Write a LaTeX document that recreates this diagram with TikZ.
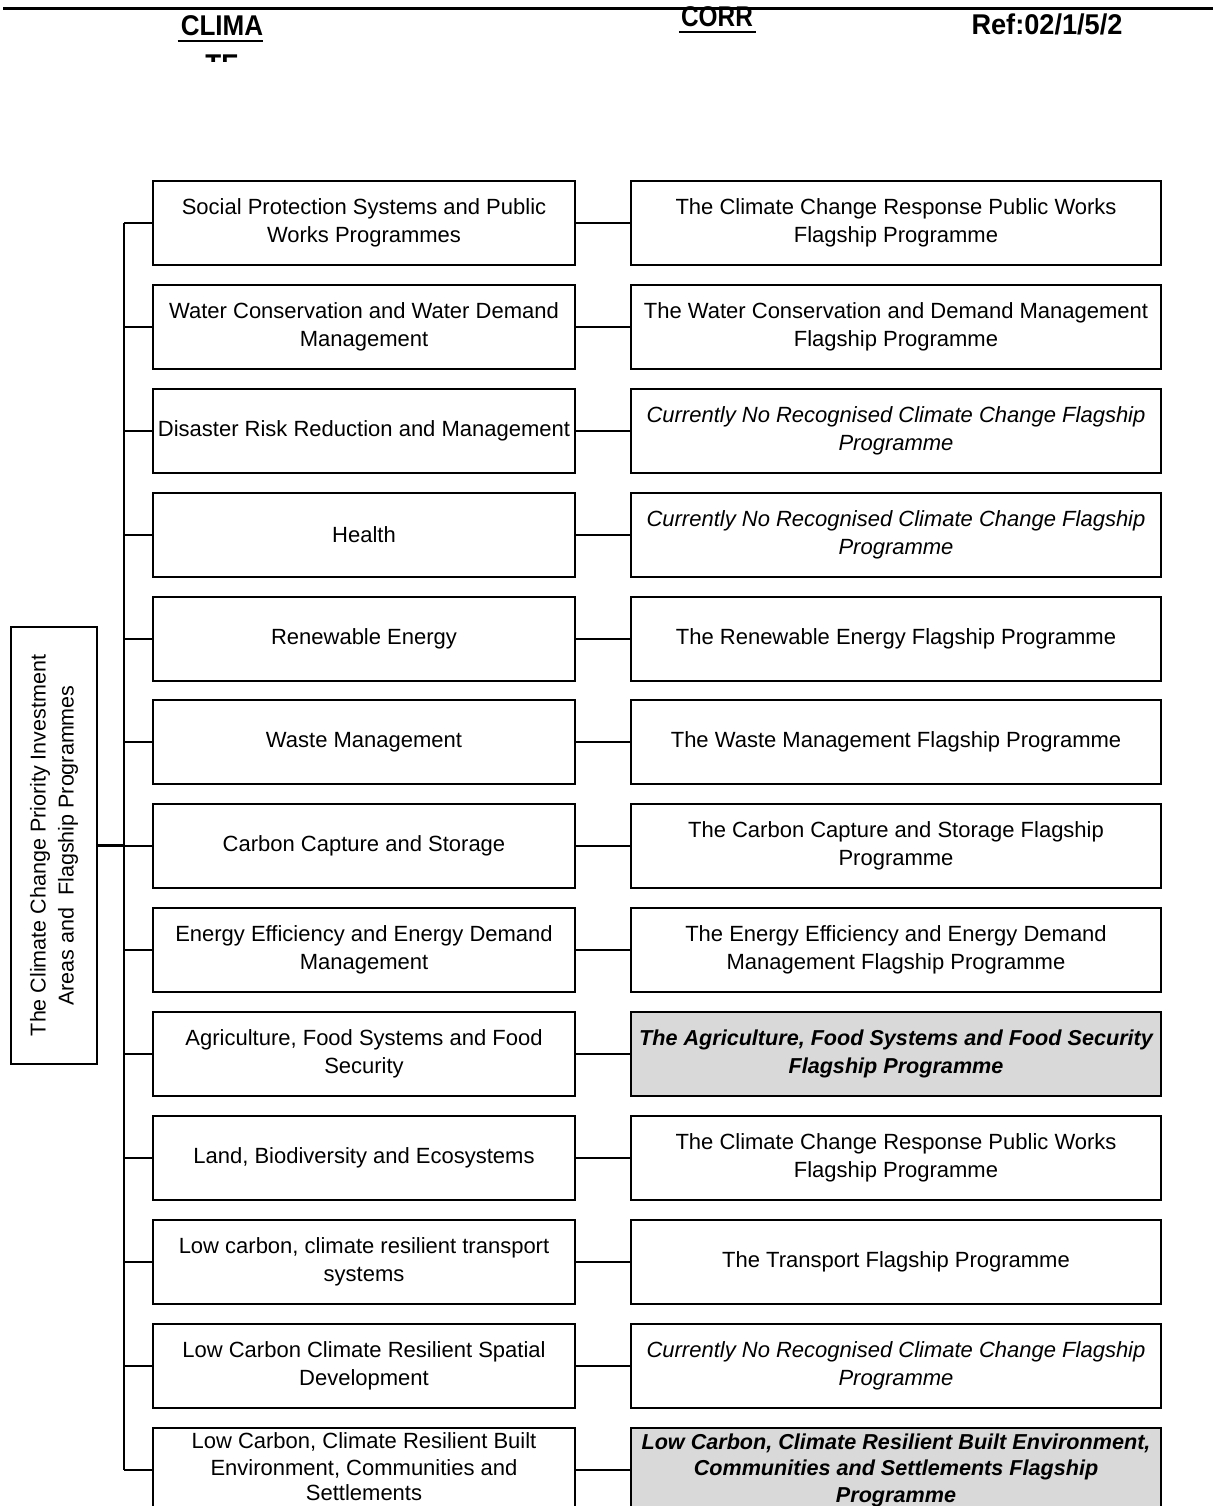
\documentclass[tikz,border=0pt]{standalone}
\usepackage{fontspec}
\setmainfont{Liberation Sans}
\definecolor{hlgray}{HTML}{D9D9D9}
\begin{document}
\begin{tikzpicture}[x=1pt,y=-1pt,
  box/.style={draw=black, line width=2pt, minimum height=84pt, inner sep=0pt, align=center, font=\fontsize{22}{28}\selectfont},
  lbox/.style={box, minimum width=422pt},
  rbox/.style={box, minimum width=530pt},
  hl/.style={fill=hlgray, font=\fontsize{21.6}{28}\selectfont\bfseries\itshape},
  it/.style={font=\fontsize{22}{28}\selectfont\itshape},
  link/.style={line width=2pt},
  hdr/.style={font=\bfseries\fontsize{28}{30}\selectfont, inner sep=0pt, anchor=base},
  uline/.style={line width=2.4pt},
]
\useasboundingbox (0,0) rectangle (1213,1506);
\clip (0,0) rectangle (1213,1506);

% header
\coordinate (hlA) at (3,8.5);
\coordinate (hlB) at (1213,8.5);
\draw[line width=3pt] (hlA) -- (hlB);
\node[hdr] (clima) at (222,36) {\scalebox{0.93}[1.02]{CLIMA}};
\draw[uline] ([xshift=-3pt,yshift=-5pt]clima.base west) -- ([yshift=-5pt]clima.base east);
\begin{scope}
\clip (150,0) rectangle (300,62);
\node[hdr] (te) at (222,75) {\scalebox{0.93}[1.02]{TE}};
\end{scope}
\node[hdr] (corr) at (717,27) {\scalebox{0.87}[1.02]{CORR}};
\draw[uline] ([xshift=-2pt,yshift=-5pt]corr.base west) -- ([xshift=3pt,yshift=-5pt]corr.base east);
\node[hdr] (ref) at (1047,35) {\scalebox{0.97}[1.02]{Ref:02/1/5/2}};

% main box
\node[draw=black, line width=2pt, minimum width=86pt, minimum height=437pt, inner sep=0pt] (M) at (54,845.5)
  {\rotatebox{90}{\fontsize{21.5}{28}\selectfont\begin{tabular}{@{}c@{}}The Climate Change Priority Investment\\ Areas and\ \ Flagship Programmes\end{tabular}}};

% left column
\node[lbox] (L1) at (364,223) {Social Protection Systems and Public\\Works Programmes};
\node[lbox] (L2) at (364,327) {Water Conservation and Water Demand\\Management};
\node[lbox] (L3) at (364,431) {Disaster Risk Reduction and Management};
\node[lbox] (L4) at (364,535) {Health};
\node[lbox] (L5) at (364,639) {Renewable Energy};
\node[lbox] (L6) at (364,742) {Waste Management};
\node[lbox] (L7) at (364,846) {Carbon Capture and Storage};
\node[lbox] (L8) at (364,950) {Energy Efficiency and Energy Demand\\Management};
\node[lbox] (L9) at (364,1054) {Agriculture, Food Systems and Food\\Security};
\node[lbox] (L10) at (364,1158) {Land, Biodiversity and Ecosystems};
\node[lbox] (L11) at (364,1262) {Low carbon, climate resilient transport\\systems};
\node[lbox] (L12) at (364,1366) {Low Carbon Climate Resilient Spatial\\Development};
\node[lbox, font=\fontsize{22}{27}\selectfont] (L13) at (364,1470) {Low Carbon, Climate Resilient Built\\Environment, Communities and\\[-2pt]Settlements\rule[-6pt]{0pt}{6pt}};

% right column
\node[rbox] (R1) at (896,223) {The Climate Change Response Public Works\\Flagship Programme};
\node[rbox] (R2) at (896,327) {The Water Conservation and Demand Management\\Flagship Programme};
\node[rbox,it] (R3) at (896,431) {Currently No Recognised Climate Change Flagship\\Programme};
\node[rbox,it] (R4) at (896,535) {Currently No Recognised Climate Change Flagship\\Programme};
\node[rbox] (R5) at (896,639) {The Renewable Energy Flagship Programme};
\node[rbox] (R6) at (896,742) {The Waste Management Flagship Programme};
\node[rbox] (R7) at (896,846) {The Carbon Capture and Storage Flagship\\Programme};
\node[rbox] (R8) at (896,950) {The Energy Efficiency and Energy Demand\\Management Flagship Programme};
\node[rbox,hl] (R9) at (896,1054) {The Agriculture, Food Systems and Food Security\\Flagship Programme};
\node[rbox] (R10) at (896,1158) {The Climate Change Response Public Works\\Flagship Programme};
\node[rbox] (R11) at (896,1262) {The Transport Flagship Programme};
\node[rbox,it] (R12) at (896,1366) {Currently No Recognised Climate Change Flagship\\Programme};
\node[rbox,hl, font=\fontsize{21.6}{26.5}\selectfont\bfseries\itshape] (R13) at (896,1470) {Low Carbon, Climate Resilient Built Environment,\\Communities and Settlements Flagship\\Programme};

% bus
\coordinate (bustop) at (124,223);
\coordinate (busbot) at (124,1470);
\draw[link] (bustop) -- (busbot);
\draw[line width=3pt] (M.east) -- (M.east -| bustop);
\foreach \i in {1,...,13}{
  \draw[link] (L\i.west) -- (L\i.west -| bustop);
  \draw[link] (L\i.east) -- (R\i.west);
}
\end{tikzpicture}
\end{document}
